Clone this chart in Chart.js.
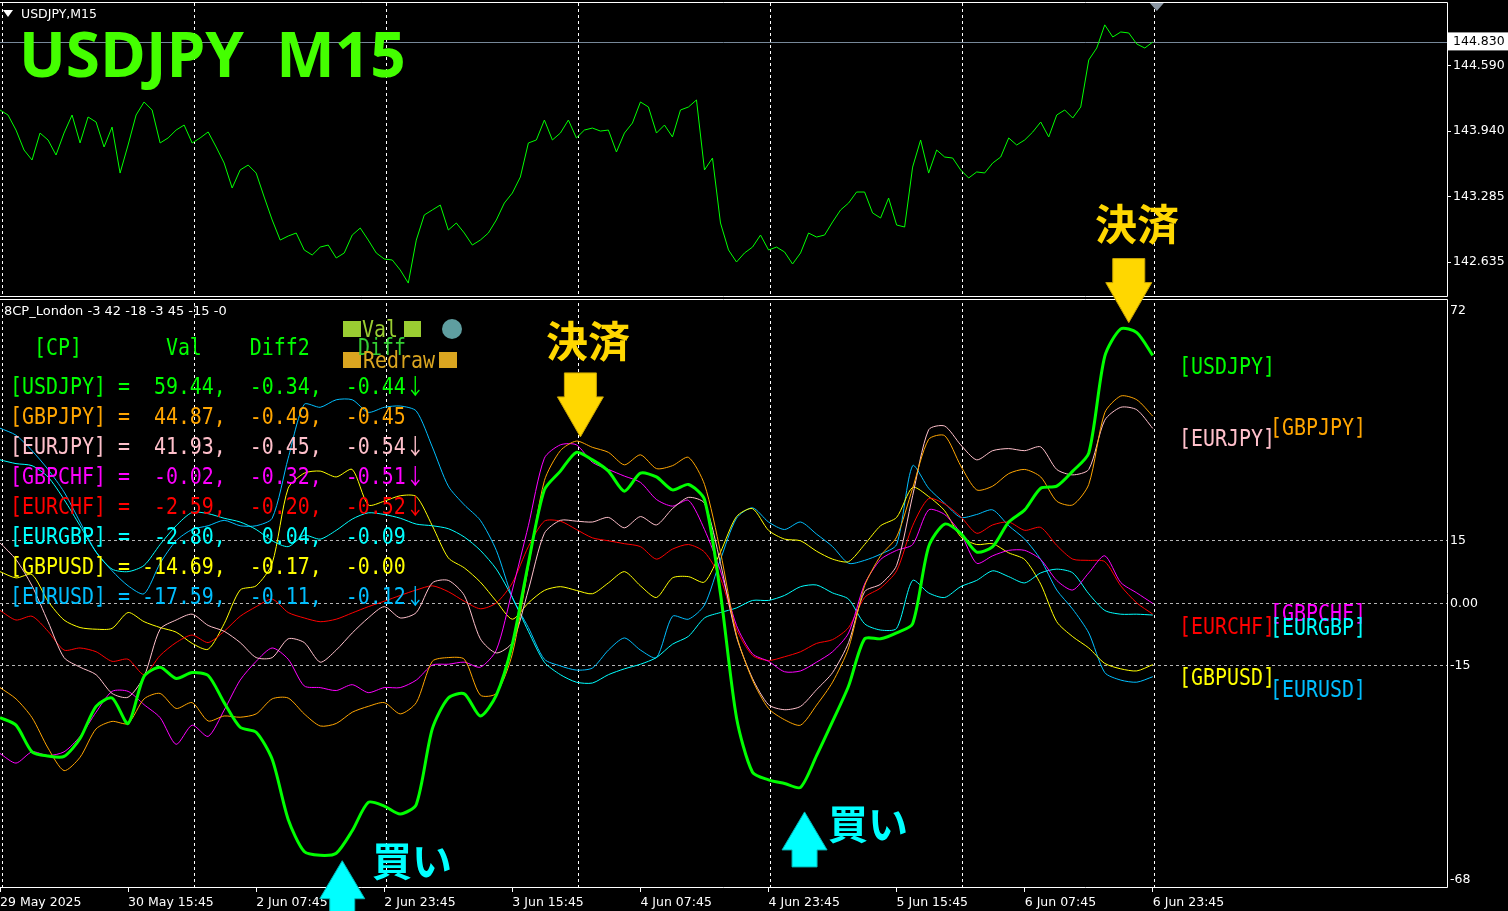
<!DOCTYPE html>
<html lang="ja"><head><meta charset="utf-8"><title>USDJPY M15</title>
<script src="https://cdn.jsdelivr.net/npm/chart.js@4.4.1/dist/chart.umd.min.js"></script>
<style>
html,body{margin:0;padding:0;background:#000;}
#wrap{position:relative;width:1508px;height:911px;overflow:hidden;background:#000;}
#wrap canvas{position:absolute;left:0;top:0;}
.ov{position:absolute;white-space:pre;z-index:5;}
.mono{font-family:"DejaVu Sans Mono",monospace;font-size:23px;line-height:30px;height:30px;transform:scaleX(0.866);transform-origin:0 0;}
.arr{font-family:"Noto Sans CJK JP",sans-serif;font-size:22px;line-height:0;}
.cjk{font-family:"Noto Sans CJK JP",sans-serif;font-weight:700;line-height:1;}
.box{position:absolute;z-index:5;}
</style></head><body>
<div id="wrap">
<canvas id="pricePanel" width="1508" height="911"></canvas>
<canvas id="cpPanel" width="1508" height="911"></canvas>
<div class="box" style="left:3px;top:10px;width:0;height:0;border-left:5px solid transparent;border-right:5px solid transparent;border-top:7px solid #fff;"></div>
<div class="ov" style="left:21px;top:6px;font:12.5px 'DejaVu Sans';color:#fff;">USDJPY,M15</div>
<div class="ov" style="left:19px;top:22px;font:700 62px 'Open Sans';line-height:62px;color:#44ff00;">USDJPY&nbsp;&nbsp;M15</div>
<div class="ov" style="left:4px;top:303px;font:13px 'DejaVu Sans';line-height:16px;color:#fff;">8CP_London -3 42 -18 -3 45 -15 -0</div>
<div class="box" style="left:343px;top:321px;width:18px;height:16px;background:#9acd32;"></div>
<div class="box" style="left:404px;top:321px;width:17px;height:16px;background:#9acd32;"></div>
<div class="box" style="left:343px;top:352px;width:18px;height:16px;background:#daa520;"></div>
<div class="box" style="left:439px;top:352px;width:18px;height:16px;background:#daa520;"></div>
<div class="box" style="left:442px;top:319px;width:20px;height:20px;border-radius:50%;background:#5f9ea0;"></div>
<div class="ov mono" style="left:362px;top:314px;color:#9acd32;">Val</div>
<div class="ov mono" style="left:358px;top:332px;color:#32cd32;">Diff</div>
<div class="ov mono" style="left:363px;top:345px;color:#daa520;">Redraw</div>
<div class="ov cjk" style="left:546px;top:318px;font-size:42px;color:#ffd700;">決済</div>
<div class="ov cjk" style="left:1095px;top:201px;font-size:42px;color:#ffd700;">決済</div>
<div class="ov cjk" style="left:372px;top:839px;font-size:40px;color:#00ffff;">買い</div>
<div class="ov cjk" style="left:828px;top:802px;font-size:40px;color:#00ffff;">買い</div>
<div id="table"></div>
<div id="rightLabels"></div>
</div>
<script>
// ---------------- data ----------------
const tickBars = [0, 64, 128, 192, 256, 320, 384, 448, 512, 576];
const tickLabels = ['29 May 2025', '30 May 15:45', '2 Jun 07:45', '2 Jun 23:45', '3 Jun 15:45', '4 Jun 07:45', '4 Jun 23:45', '5 Jun 15:45', '6 Jun 07:45', '6 Jun 23:45'];
const gridBars = [1, 97, 193, 289, 385, 481, 577];
const TOTAL_BARS = 723;
const PRICE_STEP = 4;   // bars between price samples
const CP_STEP = 8;      // bars between indicator samples

const priceTicks = [142.635, 143.285, 143.940, 144.590];
const bidPrice = 144.830;
const priceMin = 142.296, priceMax = 145.218;
const cpTicks = [72, 15, 0, -15, -68];
const cpLevels = [15, 0, -15];

const usdjpyPrice = [144.151, 144.101, 143.951, 143.752, 143.652, 143.921, 143.852, 143.702, 143.921, 144.101,
  143.822, 144.081, 144.031, 143.782, 143.981, 143.522, 143.802, 144.101, 144.231, 144.151,
  143.822, 143.872, 143.951, 144.001, 143.822, 143.872, 143.932, 143.782, 143.622, 143.373,
  143.553, 143.602, 143.522, 143.283, 143.054, 142.854, 142.894, 142.924, 142.755, 142.705,
  142.784, 142.804, 142.675, 142.725, 142.904, 142.974, 142.854, 142.725, 142.665, 142.655,
  142.555, 142.425, 142.854, 143.104, 143.154, 143.203, 142.954, 143.024, 142.924, 142.804,
  142.854, 142.924, 143.054, 143.223, 143.323, 143.483, 143.822, 143.852, 144.051, 143.852,
  143.921, 144.051, 143.872, 143.951, 143.971, 143.941, 143.951, 143.732, 143.921, 144.021,
  144.231, 144.181, 143.921, 144.001, 143.882, 144.151, 144.181, 144.251, 143.553, 143.672,
  143.024, 142.755, 142.635, 142.725, 142.784, 142.904, 142.755, 142.784, 142.735, 142.615,
  142.725, 142.924, 142.884, 142.904, 143.034, 143.154, 143.223, 143.333, 143.333, 143.124,
  143.074, 143.273, 143.004, 142.984, 143.582, 143.852, 143.522, 143.752, 143.682, 143.672,
  143.553, 143.473, 143.533, 143.523, 143.622, 143.682, 143.872, 143.802, 143.852, 143.931,
  144.031, 143.882, 144.101, 144.151, 144.071, 144.181, 144.650, 144.769, 145.000, 144.879,
  144.929, 144.919, 144.809, 144.769, 144.829];

const cpUSDJPY = [-27.4, -29.2, -35.6, -36.6, -36.7, -32.4, -24.7, -22.7, -28.8, -17.5,
  -15.3, -18, -16.6, -17.3, -23.8, -29.7, -30.9, -37.4, -51.8, -59.5,
  -60.4, -59.9, -54.5, -47.7, -48.6, -50.5, -48.2, -30.1, -22.7, -21.7,
  -27, -22, -9.8, 9.6, 27.2, 31.7, 36.2, 34.4, 31.7, 26.9,
  31.2, 30.3, 27.2, 28.5, 24.9, 2.3, -27.4, -40.5, -42.3, -43.2,
  -44.1, -36.5, -28.3, -19.8, -8.5, -8.5, -7.1, -4.9, 13.6, 19,
  16.8, 12.3, 13.6, 19.5, 22.4, 27.6, 28.1, 31.7, 36, 59.2,
  65.8, 64.9, 59.44];
const cpGBPJPY = [-20.2, -22.9, -27.4, -34.7, -40.1, -36.9, -30.1, -28.3, -28.8, -22.9,
  -21.6, -25.2, -23.8, -28.2, -27, -27.3, -26.5, -22.9, -22.7, -26.5,
  -29.4, -28.8, -26.1, -24.7, -23.8, -26.5, -23.8, -13.9, -13, -13.4,
  -22, -21.6, -12.1, 8.7, 29.4, 36.6, 38.9, 37.4, 36.2, 33.2,
  35.6, 32.3, 33, 35, 28.5, 12.3, -7.6, -18.4, -25.2, -27.9,
  -29.2, -24.4, -18.9, -10.7, 4.2, 11.4, 15.9, 27.6, 39.3, 40.2,
  33, 27.2, 28.1, 31.1, 32.1, 30.3, 24.5, 23.6, 28.5, 45.7,
  49.7, 48.8, 44.87];
const cpEURJPY = [14.5, 10.5, 4.2, -4.4, -13, -15.3, -17.1, -21.6, -22.5, -17.5,
  -6.2, -4, -2.6, -5.3, -6.7, -9.4, -13, -13, -8.5, -9.4,
  -14.1, -11.2, -7.1, -3.5, -0.8, -3.5, -2.2, 4.9, 5.5, 1.9,
  -8.5, -11.9, -9.4, 3.2, 16.8, 19.9, 19.7, 19.5, 20.6, 18.1,
  20.8, 18.8, 22.7, 25.4, 24, 9.6, -8, -18, -24.3, -25.5,
  -24.7, -20.7, -16.6, -9.4, 2.8, 4.6, 9.1, 25.8, 41.6, 42.5,
  38, 34.4, 36.6, 37.1, 36.6, 37.5, 32.1, 30.8, 32.1, 43.9,
  47, 46.4, 41.93];
const cpGBPCHF = [-36, -38.3, -35.6, -36.5, -35.6, -31.9, -26.1, -21.1, -21.1, -24.3,
  -27.4, -33.8, -29.2, -31.9, -25.6, -18.4, -13.9, -10.7, -13.4, -19.8,
  -20.2, -20.9, -19.5, -21.4, -20.2, -20.2, -18.4, -14.8, -14.6, -14.1,
  -15.3, -11.2, 3.2, 18.6, 34.8, 38, 38, 33.8, 32.1, 30.5,
  29, 24.9, 23.3, 24.7, 17.7, 7.8, -5.3, -12.1, -13.9, -16.4,
  -16.2, -14.1, -11.6, -7.1, 4.6, 10.5, 12.7, 14.1, 22.4, 21.3,
  16.8, 9.6, 11.4, 12.7, 12.7, 10.5, 5.5, 3.2, 7.3, 11.4,
  5, 2.5, -0.02];
const cpEURCHF = [-1.7, -4, -3.1, -6.7, -11.2, -10.7, -11.6, -13.9, -13.4, -17.1,
  -12.5, -9.4, -7.6, -9.4, -6.7, -3.1, -0.8, 1, -2.2, -3.5,
  -4.4, -3.8, -2.3, -0.8, 0.5, 1.9, 3.2, 4.2, 2.8, 0.5,
  -1.3, 0.1, 4.9, 13.6, 19.7, 19.7, 17.7, 15.7, 15, 14.3,
  13.6, 10.6, 13, 14.1, 12.3, 6, -6.2, -12.5, -13.7, -12.8,
  -11.6, -9.6, -8.7, -5.8, 1.4, 3.7, 7.8, 18.6, 25.1, 23.8,
  20.8, 16.8, 18.8, 19.5, 17.5, 18.2, 13.9, 10.6, 10.3, 10,
  4.2, 0.1, -2.59];
const cpEURGBP = [34.4, 33.5, 33, 30.3, 24.9, 18.6, 12.3, 8.2, 7.6, 9.1,
  14.1, 18.6, 21.8, 21.5, 20.4, 19.5, 17.7, 15, 13.6, 16.3,
  15.4, 17.5, 20.2, 21.7, 21.3, 20.4, 19, 18.6, 17.9, 15.9,
  12.7, 8.2, 1.4, -6.7, -14.1, -17.1, -18.9, -19.1, -17.1, -15.7,
  -14.6, -13, -9.8, -7.9, -3.5, -2.2, -1.1, 0.7, 0.7, 1.9,
  4, 4.4, 2.5, 1, -4.9, -6.4, -6, 5.5, 2.5, 1.4,
  4, 5.5, 7.8, 6.4, 4.9, 7.3, 8.2, 7.3, 2.3, -1.7,
  -2.6, -2.6, -2.80];
const cpGBPUSD = [7.6, 6.1, 6.9, 0.5, -4, -5.8, -6.2, -6, -2.2, -4.4,
  -5.8, -6.9, -9.6, -11, -4.9, 3.2, 4.2, 9.6, 27.6, 31.2,
  31.7, 30.3, 32.1, 23.6, 24.5, 25.8, 25.6, 18.6, 10.9, 8.5,
  5.1, 0.5, -3.8, 0.1, 3.1, 4, 3.1, 2.3, 4.9, 7.6,
  4.2, 1.4, 6.1, 6.4, 5.1, 12.3, 20.8, 22.7, 17.5, 15.4,
  15, 12.5, 10.6, 10, 14.1, 18.6, 20.6, 27.8, 25.6, 22.2,
  16, 14.1, 14.3, 12.1, 10.5, 4.6, -4.4, -8, -10.7, -14.4,
  -15.7, -16.2, -14.69];
const cpEURUSD = [42, 40.3, 36.6, 32.1, 26.7, 19.5, 12.3, 7.8, 4.2, 2.3,
  9.6, 15, 17.7, 18.6, 19.9, 18.6, 18.6, 20.4, 34.8, 47.7,
  47, 48.8, 48.8, 45.8, 47, 47.3, 46.1, 37.5, 28.1, 23.6,
  19.9, 12.7, 1.4, -5.8, -13.4, -15, -16, -15.5, -11.2, -8.3,
  -11.2, -13, -3.1, -3.8, -0.4, 10.5, 20.4, 22.9, 19.5, 17.7,
  19.5, 16.6, 13.6, 9.6, 10.3, 11.8, 14.1, 33, 27.6, 24,
  20.6, 21.3, 22.4, 18.6, 15.4, 10.5, 3.2, -1.4, -7.1, -16.6,
  -18.4, -18.9, -17.59];

const pairs = ['USDJPY', 'GBPJPY', 'EURJPY', 'GBPCHF', 'EURCHF', 'EURGBP', 'GBPUSD', 'EURUSD'];
const pairSeries = [cpUSDJPY, cpGBPJPY, cpEURJPY, cpGBPCHF, cpEURCHF, cpEURGBP, cpGBPUSD, cpEURUSD];
const valText = ['59.44', '44.87', '41.93', '-0.02', '-2.59', '-2.80', '-14.69', '-17.59'];
const diff2Text = ['-0.34', '-0.49', '-0.45', '-0.32', '-0.20', '0.04', '-0.17', '-0.11'];
const diffText = ['-0.44', '-0.45', '-0.54', '-0.51', '-0.52', '-0.09', '-0.00', '-0.12'];
const diffFalling = [true, false, true, true, true, false, false, true];

const exitBars = [290, 564];
const exitValues = [39.9, 67.3];
const buyBars = [171, 402];
const buyValues = [-61.7, -50.0];
const shiftBar = 578;

// ---------------- styles ----------------
const pairColors = ['#00ff00', '#ffa500', '#ffc0cb', '#ff00ff', '#ff0000', '#00ffff', '#ffff00', '#00bfff'];
const pairWidths = [3, 1, 1, 1, 1, 1, 1, 1];
const rightLabelLayout = [[1179, 351], [1270, 412], [1179, 423], [1270, 598], [1179, 611], [1270, 612], [1179, 662], [1270, 674]];
const rightLabelOrder = [0, 1, 2, 3, 4, 5, 6, 7];

// ---------------- text overlays ----------------
(function buildText() {
  const table = document.getElementById('table');
  const head = document.createElement('div');
  head.className = 'ov mono';
  head.style.cssText = 'left:10px;top:332px;color:#00ff00;';
  head.textContent = '  [CP]       Val    Diff2';
  table.appendChild(head);
  pairs.forEach((p, i) => {
    const d = document.createElement('div');
    d.className = 'ov mono';
    d.style.left = '10px';
    d.style.top = (371 + 30 * i) + 'px';
    d.style.color = pairColors[i];
    d.appendChild(document.createTextNode('[' + p + '] = ' + valText[i].padStart(6) + ', ' + diff2Text[i].padStart(6) + ', ' + diffText[i].padStart(6)));
    if (diffFalling[i]) {
      const a = document.createElement('span');
      a.className = 'arr';
      a.textContent = '\u2193';
      d.appendChild(a);
    }
    table.appendChild(d);
  });
  const rl = document.getElementById('rightLabels');
  rightLabelOrder.forEach(i => {
    const d = document.createElement('div');
    d.className = 'ov mono';
    d.style.left = rightLabelLayout[i][0] + 'px';
    d.style.top = rightLabelLayout[i][1] + 'px';
    d.style.color = pairColors[i];
    d.textContent = '[' + pairs[i] + ']';
    rl.appendChild(d);
  });
})();

// ---------------- plugins ----------------
const framePlugin = {
  id: 'frame',
  afterDraw(chart, args, opts) {
    const { ctx, chartArea: a } = chart;
    ctx.save();
    ctx.strokeStyle = '#ffffff';
    ctx.lineWidth = 1;
    const t = Math.round(a.top - opts.topGap) + 0.5;
    const r = Math.round(a.right) + 0.5;
    const b = Math.round(a.bottom) + 0.5;
    ctx.beginPath();
    ctx.moveTo(0, t); ctx.lineTo(r, t); ctx.lineTo(r, b); ctx.lineTo(0, b);
    ctx.stroke();
    ctx.restore();
  }
};

const bidPlugin = {
  id: 'bid',
  beforeDatasetsDraw(chart) {
    const { ctx, chartArea: a, scales } = chart;
    const y = Math.round(scales.y.getPixelForValue(bidPrice)) + 0.5;
    ctx.save();
    ctx.strokeStyle = '#778899';
    ctx.lineWidth = 1;
    ctx.beginPath(); ctx.moveTo(a.left, y); ctx.lineTo(a.right, y); ctx.stroke();
    ctx.restore();
  },
  afterDraw(chart) {
    const { ctx, scales, chartArea: a } = chart;
    const x = scales.x.getPixelForValue(shiftBar);
    ctx.save();
    ctx.fillStyle = '#8a96a3';
    ctx.beginPath();
    ctx.moveTo(x - 7, a.top); ctx.lineTo(x + 7, a.top); ctx.lineTo(x, a.top + 8); ctx.closePath();
    ctx.fill();
    ctx.restore();
  }
};

function arrowPath(ctx, x, tipY, dir, headW, headH, shaftW, shaftH) {
  const baseY = tipY - dir * headH;
  const endY = baseY - dir * shaftH;
  ctx.beginPath();
  ctx.moveTo(x, tipY);
  ctx.lineTo(x - headW / 2, baseY);
  ctx.lineTo(x - shaftW / 2, baseY);
  ctx.lineTo(x - shaftW / 2, endY);
  ctx.lineTo(x + shaftW / 2, endY);
  ctx.lineTo(x + shaftW / 2, baseY);
  ctx.lineTo(x + headW / 2, baseY);
  ctx.closePath();
}

const signalPlugin = {
  id: 'signals',
  afterDraw(chart) {
    const { ctx, scales } = chart;
    ctx.save();
    ctx.lineWidth = 1;
    exitBars.forEach((b, i) => {
      const x = scales.x.getPixelForValue(b);
      const y = scales.y.getPixelForValue(exitValues[i]);
      arrowPath(ctx, x, y, 1, 46, 40, 32, 24);
      ctx.fillStyle = '#ffd700'; ctx.fill();
      ctx.strokeStyle = '#c9a400'; ctx.stroke();
    });
    buyBars.forEach((b, i) => {
      const x = scales.x.getPixelForValue(b);
      const y = scales.y.getPixelForValue(buyValues[i]);
      arrowPath(ctx, x, y, -1, 45, 38, 25, 17);
      ctx.fillStyle = '#00ffff'; ctx.fill();
      ctx.strokeStyle = '#00b8b8'; ctx.stroke();
    });
    ctx.restore();
  }
};

// ---------------- charts ----------------
Chart.defaults.font.family = 'DejaVu Sans';

function makeX(showLabels) {
  return {
    type: 'linear', position: 'bottom', min: 0, max: TOTAL_BARS,
    afterBuildTicks(s) {
      const vals = showLabels ? tickBars.concat(gridBars) : gridBars.slice();
      s.ticks = vals.sort((a, b) => a - b).map(v => ({ value: v }));
    },
    afterFit(s) { s.height = showLabels ? 24 : 0; s.paddingLeft = 0; s.paddingRight = 0; },
    ticks: {
      display: showLabels, autoSkip: false, maxRotation: 0, minRotation: 0, align: 'start', padding: 3,
      color: '#ffffff', font: { family: 'DejaVu Sans', size: 12.5 },
      callback(v) { const k = tickBars.indexOf(v); return k >= 0 ? tickLabels[k] : ''; }
    },
    grid: {
      display: true, drawOnChartArea: true, drawTicks: showLabels, tickLength: 5, lineWidth: 1, tickWidth: 1,
      color(c) { return c.tick && gridBars.includes(c.tick.value) ? '#ffffff' : 'rgba(0,0,0,0)'; },
      tickColor(c) { return c.tick && tickBars.includes(c.tick.value) ? '#ffffff' : 'rgba(0,0,0,0)'; }
    },
    border: { display: false, dash: [3, 3] }
  };
}

new Chart(document.getElementById('pricePanel'), {
  type: 'line',
  data: {
    datasets: [{
      data: usdjpyPrice.map((v, i) => ({ x: i * PRICE_STEP, y: v })),
      borderColor: '#00ff00', borderWidth: 1, pointRadius: 0, tension: 0, fill: false
    }]
  },
  options: {
    responsive: false, animation: false, events: [],
    layout: { padding: { top: 3, bottom: 615, left: 0, right: 0 } },
    plugins: { legend: { display: false }, tooltip: { enabled: false }, frame: { topGap: 1 } },
    scales: {
      x: makeX(false),
      y: {
        type: 'linear', position: 'right', min: priceMin, max: priceMax,
        afterBuildTicks(s) { s.ticks = priceTicks.concat([bidPrice]).map(v => ({ value: v })); },
        afterFit(s) { s.width = 61; s.paddingTop = 0; s.paddingBottom = 0; },
        ticks: {
          autoSkip: false, padding: 2, font: { family: 'DejaVu Sans', size: 12.5 },
          color(c) { return c.tick && c.tick.value === bidPrice ? '#000000' : '#ffffff'; },
          showLabelBackdrop(c) { return !!(c.tick && c.tick.value === bidPrice); },
          backdropColor: '#ffffff',
          backdropPadding: { left: 5, right: 8, top: 2, bottom: 1 },
          callback(v) { return v.toFixed(3); }
        },
        grid: {
          drawOnChartArea: false, drawTicks: true, tickLength: 4,
          tickColor(c) { return c.tick && c.tick.value === bidPrice ? 'rgba(0,0,0,0)' : '#ffffff'; }
        },
        border: { display: false }
      }
    }
  },
  plugins: [framePlugin, bidPlugin]
});

new Chart(document.getElementById('cpPanel'), {
  type: 'line',
  data: {
    datasets: pairs.map((p, i) => ({
      label: p,
      data: pairSeries[i].map((v, k) => ({ x: k * CP_STEP, y: v })),
      borderColor: pairColors[i], borderWidth: pairWidths[i], pointRadius: 0,
      tension: 0.25, fill: false, borderJoinStyle: 'round'
    }))
  },
  options: {
    responsive: false, animation: false, events: [],
    layout: { padding: { top: 303, bottom: 0, left: 0, right: 0 } },
    plugins: { legend: { display: false }, tooltip: { enabled: false }, frame: { topGap: 4 } },
    scales: {
      x: makeX(true),
      y: {
        type: 'linear', position: 'right', min: -68, max: 72,
        afterBuildTicks(s) { s.ticks = cpTicks.map(v => ({ value: v })); },
        afterFit(s) { s.width = 61; s.paddingTop = 0; s.paddingBottom = 0; },
        ticks: {
          autoSkip: false, padding: 3, color: '#ffffff', font: { family: 'DejaVu Sans', size: 12.5 },
          callback(v) { return v === 72 ? ['', '72'] : v === -68 ? ['-68', ''] : v === 0 ? '0.00' : String(v); }
        },
        grid: {
          drawTicks: false, lineWidth: 1,
          color(c) { return c.tick && cpLevels.includes(c.tick.value) ? '#b4b4b4' : 'rgba(0,0,0,0)'; }
        },
        border: { display: false, dash: [3, 3] }
      }
    }
  },
  plugins: [framePlugin, signalPlugin]
});
</script>
</body></html>
